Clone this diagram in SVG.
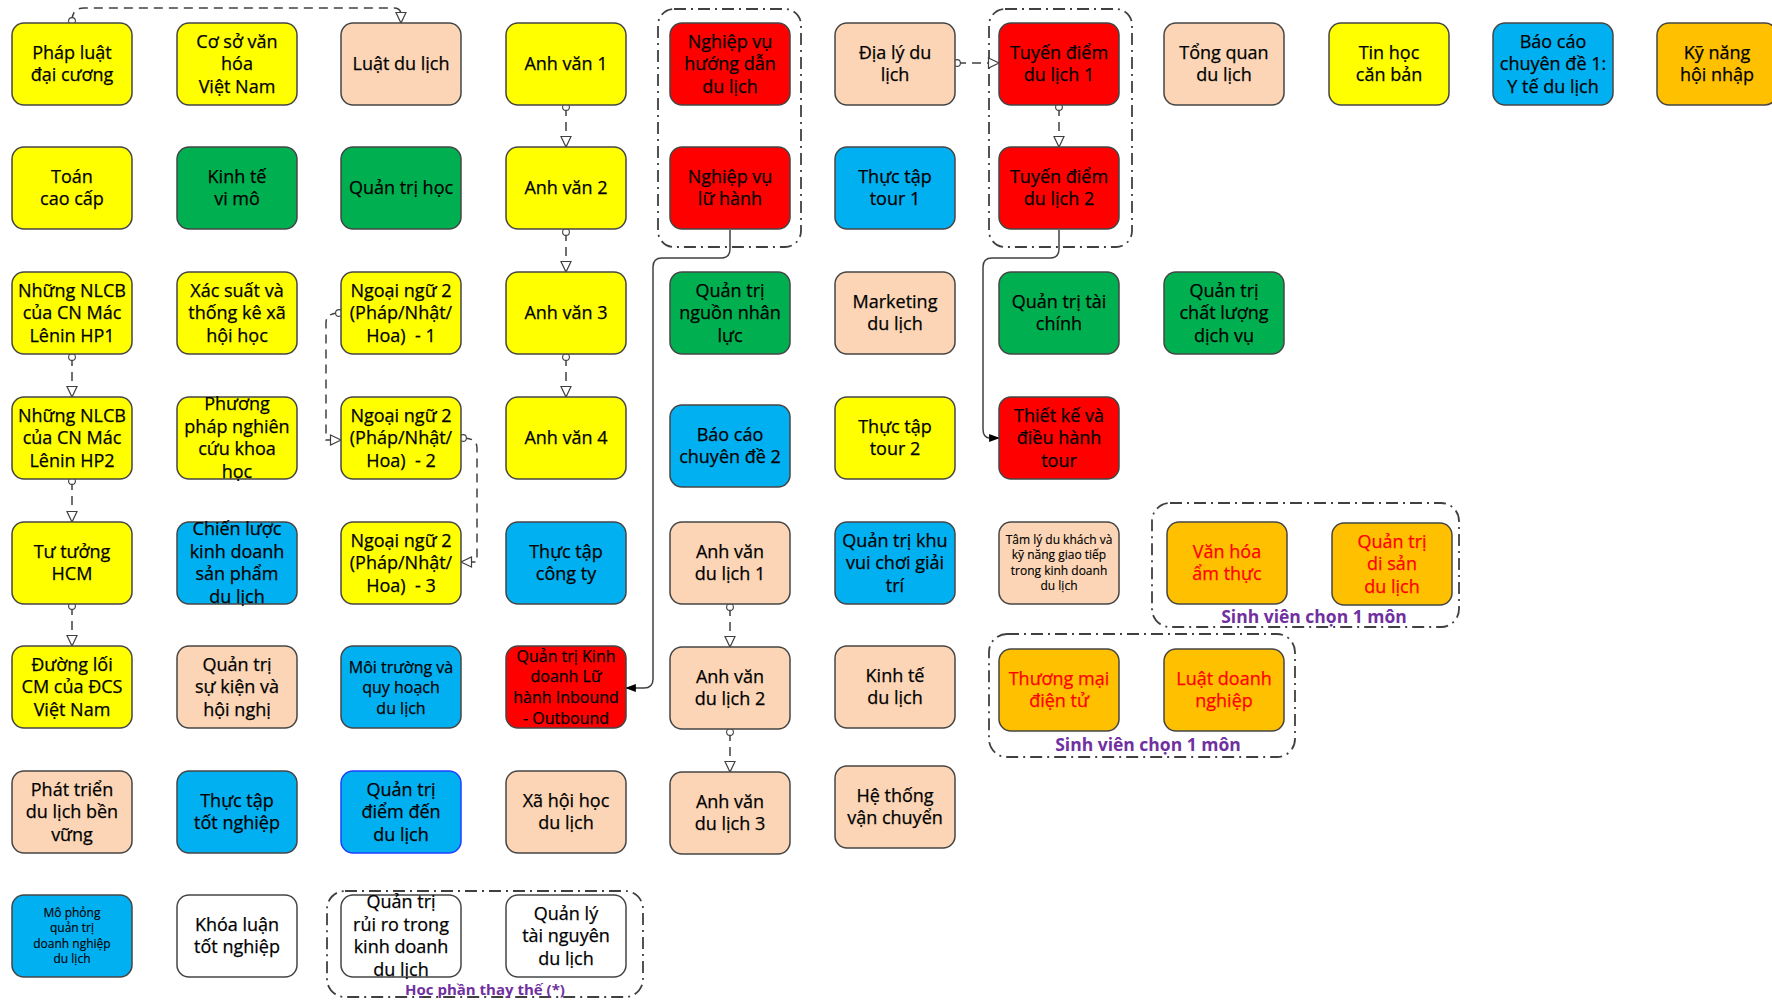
<svg xmlns="http://www.w3.org/2000/svg" width="1772" height="1000" viewBox="0 0 1772 1000">
<style>
.n rect{stroke:#454545;stroke-width:1.5}
.y rect{fill:#FFFF00}.g rect{fill:#00B050}.r rect{fill:#FF0000}.p rect{fill:#FBD5B5}.b rect{fill:#00B0F0}.o rect{fill:#FFC000}.w rect{fill:#FFFFFF}
.n text{font-family:"Open Sans","Noto Sans",sans-serif;font-size:18px;fill:#000;text-anchor:middle;stroke:#000;stroke-width:0.25}
.o text{fill:#FF0000;stroke:#FF0000}
.s12{font-size:12px!important}
.s16{font-size:16px!important}
.grp{fill:none;stroke:#404040;stroke-width:1.8;stroke-dasharray:12 5 2 5}
.lbl{font-family:"Open Sans","Noto Sans",sans-serif;font-weight:bold;fill:#7030A0;text-anchor:middle}
.dl{fill:none;stroke:#404040;stroke-width:1.5;stroke-dasharray:9 6}
.sl{fill:none;stroke:#404040;stroke-width:1.5}
</style>
<defs>
<marker id="oa" viewBox="0 0 12 12" refX="11.5" refY="6" markerWidth="12" markerHeight="12" markerUnits="userSpaceOnUse" orient="auto" overflow="visible">
<path d="M1,1 L11.5,6 L1,11 Z" fill="#fff" stroke="#404040" stroke-width="1.2" stroke-dasharray="none"/>
</marker>
<marker id="fa" viewBox="0 0 12 10" refX="11" refY="5" markerWidth="12" markerHeight="9" markerUnits="userSpaceOnUse" orient="auto" overflow="visible">
<path d="M0,0.5 L12,5 L0,9.5 Z" fill="#000" stroke="none"/>
</marker>
<marker id="ci" viewBox="0 0 8 8" refX="4" refY="4" markerWidth="8" markerHeight="8" markerUnits="userSpaceOnUse" orient="auto" overflow="visible">
<circle cx="4" cy="4" r="3.4" fill="#fff" stroke="#404040" stroke-width="1.1" stroke-dasharray="none"/>
</marker>
</defs>

<g id="groups">
<rect class="grp" x="658" y="9" width="143" height="238" rx="16"/>
<rect class="grp" x="989" y="9" width="143" height="238" rx="16"/>
<rect class="grp" x="1152" y="503" width="307" height="124" rx="18"/>
<rect class="grp" x="989" y="634" width="306" height="123" rx="18"/>
<rect class="grp" x="327" y="891" width="316" height="106" rx="18"/>
<text class="lbl" x="1314" y="623" font-size="17.5">Sinh viên chọn 1 môn</text>
<text class="lbl" x="1148" y="751" font-size="17.5">Sinh viên chọn 1 môn</text>
<text class="lbl" x="485" y="995" font-size="15">Học phần thay thế (*)</text>
</g>

<g id="connectors">
<path class="dl" d="M72,21 Q72,8 84,8 L394,8 Q401,8 401,15 L401,23" marker-start="url(#ci)" marker-end="url(#oa)"/>
<path class="dl" d="M566,107 L566,147" marker-start="url(#ci)" marker-end="url(#oa)"/>
<path class="dl" d="M566,232 L566,272" marker-start="url(#ci)" marker-end="url(#oa)"/>
<path class="dl" d="M566,357 L566,397" marker-start="url(#ci)" marker-end="url(#oa)"/>
<path class="dl" d="M72,357 L72,397" marker-start="url(#ci)" marker-end="url(#oa)"/>
<path class="dl" d="M72,481 L72,522" marker-start="url(#ci)" marker-end="url(#oa)"/>
<path class="dl" d="M72,606 L72,646" marker-start="url(#ci)" marker-end="url(#oa)"/>
<path class="dl" d="M339,313 Q326,313 326,323 L326,440 L341,440" marker-start="url(#ci)" marker-end="url(#oa)"/>
<path class="dl" d="M463,438 Q477,438 477,448 L477,562 L461,562" marker-start="url(#ci)" marker-end="url(#oa)"/>
<path class="dl" d="M957,63 L999,63" marker-start="url(#ci)" marker-end="url(#oa)"/>
<path class="dl" d="M1059,107 L1059,147" marker-start="url(#ci)" marker-end="url(#oa)"/>
<path class="dl" d="M730,607 L730,647" marker-start="url(#ci)" marker-end="url(#oa)"/>
<path class="dl" d="M730,732 L730,772" marker-start="url(#ci)" marker-end="url(#oa)"/>
<path class="sl" d="M730,230 L730,249 Q730,258 721,258 L662,258 Q653,258 653,267 L653,679 Q653,688 644,688 L626,688" marker-end="url(#fa)"/>
<path class="sl" d="M1059,230 L1059,249 Q1059,258 1050,258 L992,258 Q983,258 983,267 L983,429 Q983,438 990,438 L999,438" marker-end="url(#fa)"/>
</g>

<!-- Row 1 -->
<g id="phap-luat" class="n y"><rect x="12" y="23" width="120" height="82" rx="12"/><text x="72" y="58.75"><tspan x="72">Pháp luật</tspan><tspan x="72" dy="22.5">đại cương</tspan></text></g>
<g id="co-so-van-hoa" class="n y"><rect x="177" y="23" width="120" height="82" rx="12"/><text x="237" y="47.5"><tspan x="237">Cơ sở văn</tspan><tspan x="237" dy="22.5">hóa</tspan><tspan x="237" dy="22.5">Việt Nam</tspan></text></g>
<g id="luat-du-lich" class="n p"><rect x="341" y="23" width="120" height="82" rx="12"/><text x="401" y="70">Luật du lịch</text></g>
<g id="anh-van-1" class="n y"><rect x="506" y="23" width="120" height="82" rx="12"/><text x="566" y="70">Anh văn 1</text></g>
<g id="nv-huong-dan" class="n r"><rect x="670" y="23" width="120" height="82" rx="12"/><text x="730" y="47.5"><tspan x="730">Nghiệp vụ</tspan><tspan x="730" dy="22.5">hướng dẫn</tspan><tspan x="730" dy="22.5">du lịch</tspan></text></g>
<g id="dia-ly" class="n p"><rect x="835" y="23" width="120" height="82" rx="12"/><text x="895" y="58.75"><tspan x="895">Địa lý du</tspan><tspan x="895" dy="22.5">lịch</tspan></text></g>
<g id="tuyen-diem-1" class="n r"><rect x="999" y="23" width="120" height="82" rx="12"/><text x="1059" y="58.75"><tspan x="1059">Tuyến điểm</tspan><tspan x="1059" dy="22.5">du lịch 1</tspan></text></g>
<g id="tong-quan" class="n p"><rect x="1164" y="23" width="120" height="82" rx="12"/><text x="1224" y="58.75"><tspan x="1224">Tổng quan</tspan><tspan x="1224" dy="22.5">du lịch</tspan></text></g>
<g id="tin-hoc" class="n y"><rect x="1329" y="23" width="120" height="82" rx="12"/><text x="1389" y="58.75"><tspan x="1389">Tin học</tspan><tspan x="1389" dy="22.5">căn bản</tspan></text></g>
<g id="bao-cao-1" class="n b"><rect x="1493" y="23" width="120" height="82" rx="12"/><text x="1553" y="47.5"><tspan x="1553">Báo cáo</tspan><tspan x="1553" dy="22.5">chuyên đề 1:</tspan><tspan x="1553" dy="22.5">Y tế du lịch</tspan></text></g>
<g id="ky-nang" class="n o"><rect x="1657" y="23" width="120" height="82" rx="12"/><text x="1717" y="58.75" style="fill:#000;stroke:#000"><tspan x="1717">Kỹ năng</tspan><tspan x="1717" dy="22.5">hội nhập</tspan></text></g>

<!-- Row 2 -->
<g id="toan" class="n y"><rect x="12" y="147" width="120" height="82" rx="12"/><text x="72" y="182.75"><tspan x="72">Toán</tspan><tspan x="72" dy="22.5">cao cấp</tspan></text></g>
<g id="kinh-te-vi-mo" class="n g"><rect x="177" y="147" width="120" height="82" rx="12"/><text x="237" y="182.75"><tspan x="237">Kinh tế</tspan><tspan x="237" dy="22.5">vi mô</tspan></text></g>
<g id="quan-tri-hoc" class="n g"><rect x="341" y="147" width="120" height="82" rx="12"/><text x="401" y="194">Quản trị học</text></g>
<g id="anh-van-2" class="n y"><rect x="506" y="147" width="120" height="82" rx="12"/><text x="566" y="194">Anh văn 2</text></g>
<g id="nv-lu-hanh" class="n r"><rect x="670" y="147" width="120" height="82" rx="12"/><text x="730" y="182.75"><tspan x="730">Nghiệp vụ</tspan><tspan x="730" dy="22.5">lữ hành</tspan></text></g>
<g id="thuc-tap-tour-1" class="n b"><rect x="835" y="147" width="120" height="82" rx="12"/><text x="895" y="182.75"><tspan x="895">Thực tập</tspan><tspan x="895" dy="22.5">tour 1</tspan></text></g>
<g id="tuyen-diem-2" class="n r"><rect x="999" y="147" width="120" height="82" rx="12"/><text x="1059" y="182.75"><tspan x="1059">Tuyến điểm</tspan><tspan x="1059" dy="22.5">du lịch 2</tspan></text></g>

<!-- Row 3 -->
<g id="nlcb-1" class="n y"><rect x="12" y="272" width="120" height="82" rx="12"/><text x="72" y="296.5"><tspan x="72">Những NLCB</tspan><tspan x="72" dy="22.5">của CN Mác</tspan><tspan x="72" dy="22.5">Lênin HP1</tspan></text></g>
<g id="xac-suat" class="n y"><rect x="177" y="272" width="120" height="82" rx="12"/><text x="237" y="296.5"><tspan x="237">Xác suất và</tspan><tspan x="237" dy="22.5">thống kê xã</tspan><tspan x="237" dy="22.5">hội học</tspan></text></g>
<g id="ngoai-ngu-1" class="n y"><rect x="341" y="272" width="120" height="82" rx="12"/><text x="401" y="296.5" xml:space="preserve"><tspan x="401">Ngoại ngữ 2</tspan><tspan x="401" dy="22.5">(Pháp/Nhật/</tspan><tspan x="401" dy="22.5">Hoa)  - 1</tspan></text></g>
<g id="anh-van-3" class="n y"><rect x="506" y="272" width="120" height="82" rx="12"/><text x="566" y="319">Anh văn 3</text></g>
<g id="qt-nhan-luc" class="n g"><rect x="670" y="272" width="120" height="82" rx="12"/><text x="730" y="296.5"><tspan x="730">Quản trị</tspan><tspan x="730" dy="22.5">nguồn nhân</tspan><tspan x="730" dy="22.5">lực</tspan></text></g>
<g id="marketing" class="n p"><rect x="835" y="272" width="120" height="82" rx="12"/><text x="895" y="307.75"><tspan x="895">Marketing</tspan><tspan x="895" dy="22.5">du lịch</tspan></text></g>
<g id="qt-tai-chinh" class="n g"><rect x="999" y="272" width="120" height="82" rx="12"/><text x="1059" y="307.75"><tspan x="1059">Quản trị tài</tspan><tspan x="1059" dy="22.5">chính</tspan></text></g>
<g id="qt-chat-luong" class="n g"><rect x="1164" y="272" width="120" height="82" rx="12"/><text x="1224" y="296.5"><tspan x="1224">Quản trị</tspan><tspan x="1224" dy="22.5">chất lượng</tspan><tspan x="1224" dy="22.5">dịch vụ</tspan></text></g>

<!-- Row 4 -->
<g id="nlcb-2" class="n y"><rect x="12" y="397" width="120" height="82" rx="12"/><text x="72" y="421.5"><tspan x="72">Những NLCB</tspan><tspan x="72" dy="22.5">của CN Mác</tspan><tspan x="72" dy="22.5">Lênin HP2</tspan></text></g>
<g id="ppnckh" class="n y"><rect x="177" y="397" width="120" height="82" rx="12"/><text x="237" y="410.25"><tspan x="237">Phương</tspan><tspan x="237" dy="22.5">pháp nghiên</tspan><tspan x="237" dy="22.5">cứu khoa</tspan><tspan x="237" dy="22.5">học</tspan></text></g>
<g id="ngoai-ngu-2" class="n y"><rect x="341" y="397" width="120" height="82" rx="12"/><text x="401" y="421.5" xml:space="preserve"><tspan x="401">Ngoại ngữ 2</tspan><tspan x="401" dy="22.5">(Pháp/Nhật/</tspan><tspan x="401" dy="22.5">Hoa)  - 2</tspan></text></g>
<g id="anh-van-4" class="n y"><rect x="506" y="397" width="120" height="82" rx="12"/><text x="566" y="444">Anh văn 4</text></g>
<g id="bao-cao-2" class="n b"><rect x="670" y="405" width="120" height="82" rx="12"/><text x="730" y="440.75"><tspan x="730">Báo cáo</tspan><tspan x="730" dy="22.5">chuyên đề 2</tspan></text></g>
<g id="thuc-tap-tour-2" class="n y"><rect x="835" y="397" width="120" height="82" rx="12"/><text x="895" y="432.75"><tspan x="895">Thực tập</tspan><tspan x="895" dy="22.5">tour 2</tspan></text></g>
<g id="thiet-ke-tour" class="n r"><rect x="999" y="397" width="120" height="82" rx="12"/><text x="1059" y="421.5"><tspan x="1059">Thiết kế và</tspan><tspan x="1059" dy="22.5">điều hành</tspan><tspan x="1059" dy="22.5">tour</tspan></text></g>

<!-- Row 5 -->
<g id="tu-tuong" class="n y"><rect x="12" y="522" width="120" height="82" rx="12"/><text x="72" y="557.75"><tspan x="72">Tư tưởng</tspan><tspan x="72" dy="22.5">HCM</tspan></text></g>
<g id="chien-luoc" class="n b"><rect x="177" y="522" width="120" height="82" rx="12"/><text x="237" y="535.25"><tspan x="237">Chiến lược</tspan><tspan x="237" dy="22.5">kinh doanh</tspan><tspan x="237" dy="22.5">sản phẩm</tspan><tspan x="237" dy="22.5">du lịch</tspan></text></g>
<g id="ngoai-ngu-3" class="n y"><rect x="341" y="522" width="120" height="82" rx="12"/><text x="401" y="546.5" xml:space="preserve"><tspan x="401">Ngoại ngữ 2</tspan><tspan x="401" dy="22.5">(Pháp/Nhật/</tspan><tspan x="401" dy="22.5">Hoa)  - 3</tspan></text></g>
<g id="thuc-tap-cong-ty" class="n b"><rect x="506" y="522" width="120" height="82" rx="12"/><text x="566" y="557.75"><tspan x="566">Thực tập</tspan><tspan x="566" dy="22.5">công ty</tspan></text></g>
<g id="avdl-1" class="n p"><rect x="670" y="522" width="120" height="82" rx="12"/><text x="730" y="557.75"><tspan x="730">Anh văn</tspan><tspan x="730" dy="22.5">du lịch 1</tspan></text></g>
<g id="qt-khu-vui-choi" class="n b"><rect x="835" y="522" width="120" height="82" rx="12"/><text x="895" y="546.5"><tspan x="895">Quản trị khu</tspan><tspan x="895" dy="22.5">vui chơi giải</tspan><tspan x="895" dy="22.5">trí</tspan></text></g>
<g id="tam-ly" class="n p"><rect x="999" y="522" width="120" height="82" rx="12"/><text class="s12" x="1059" y="544" style="stroke-width:0.15"><tspan x="1059">Tâm lý du khách và</tspan><tspan x="1059" dy="15.3">kỹ năng giao tiếp</tspan><tspan x="1059" dy="15.3">trong kinh doanh</tspan><tspan x="1059" dy="15.3">du lịch</tspan></text></g>
<g id="van-hoa-am-thuc" class="n o"><rect x="1167" y="522" width="120" height="82" rx="12"/><text x="1227" y="557.75"><tspan x="1227">Văn hóa</tspan><tspan x="1227" dy="22.5">ẩm thực</tspan></text></g>
<g id="qt-di-san" class="n o"><rect x="1332" y="523" width="120" height="82" rx="12"/><text x="1392" y="547.5"><tspan x="1392">Quản trị</tspan><tspan x="1392" dy="22.5">di sản</tspan><tspan x="1392" dy="22.5">du lịch</tspan></text></g>

<!-- Row 6 -->
<g id="duong-loi" class="n y"><rect x="12" y="646" width="120" height="82" rx="12"/><text x="72" y="670.5"><tspan x="72">Đường lối</tspan><tspan x="72" dy="22.5">CM của ĐCS</tspan><tspan x="72" dy="22.5">Việt Nam</tspan></text></g>
<g id="qt-su-kien" class="n p"><rect x="177" y="646" width="120" height="82" rx="12"/><text x="237" y="670.5"><tspan x="237">Quản trị</tspan><tspan x="237" dy="22.5">sự kiện và</tspan><tspan x="237" dy="22.5">hội nghị</tspan></text></g>
<g id="moi-truong" class="n b"><rect x="341" y="646" width="120" height="82" rx="12"/><text class="s16" x="401" y="672.5"><tspan x="401">Môi trường và</tspan><tspan x="401" dy="20.5">quy hoạch</tspan><tspan x="401" dy="20.5">du lịch</tspan></text></g>
<g id="qtkd-lu-hanh" class="n r"><rect x="506" y="646" width="120" height="82" rx="12"/><text class="s16" x="566" y="661.5"><tspan x="566">Quản trị Kinh</tspan><tspan x="566" dy="20.7">doanh Lữ</tspan><tspan x="566" dy="20.7">hành Inbound</tspan><tspan x="566" dy="20.7">- Outbound</tspan></text></g>
<g id="avdl-2" class="n p"><rect x="670" y="647" width="120" height="82" rx="12"/><text x="730" y="682.75"><tspan x="730">Anh văn</tspan><tspan x="730" dy="22.5">du lịch 2</tspan></text></g>
<g id="kinh-te-du-lich" class="n p"><rect x="835" y="646" width="120" height="82" rx="12"/><text x="895" y="681.75"><tspan x="895">Kinh tế</tspan><tspan x="895" dy="22.5">du lịch</tspan></text></g>
<g id="thuong-mai-dien-tu" class="n o"><rect x="999" y="649" width="120" height="82" rx="12"/><text x="1059" y="684.75"><tspan x="1059">Thương mại</tspan><tspan x="1059" dy="22.5">điện tử</tspan></text></g>
<g id="luat-doanh-nghiep" class="n o"><rect x="1164" y="649" width="120" height="82" rx="12"/><text x="1224" y="684.75"><tspan x="1224">Luật doanh</tspan><tspan x="1224" dy="22.5">nghiệp</tspan></text></g>

<!-- Row 7 -->
<g id="phat-trien-ben-vung" class="n p"><rect x="12" y="771" width="120" height="82" rx="12"/><text x="72" y="795.5"><tspan x="72">Phát triển</tspan><tspan x="72" dy="22.5">du lịch bền</tspan><tspan x="72" dy="22.5">vững</tspan></text></g>
<g id="thuc-tap-tot-nghiep" class="n b"><rect x="177" y="771" width="120" height="82" rx="12"/><text x="237" y="806.75"><tspan x="237">Thực tập</tspan><tspan x="237" dy="22.5">tốt nghiệp</tspan></text></g>
<g id="qt-diem-den" class="n b"><rect x="341" y="771" width="120" height="82" rx="12" style="stroke:#1F3FFF"/><text x="401" y="795.5"><tspan x="401">Quản trị</tspan><tspan x="401" dy="22.5">điểm đến</tspan><tspan x="401" dy="22.5">du lịch</tspan></text></g>
<g id="xa-hoi-hoc" class="n p"><rect x="506" y="771" width="120" height="82" rx="12"/><text x="566" y="806.75"><tspan x="566">Xã hội học</tspan><tspan x="566" dy="22.5">du lịch</tspan></text></g>
<g id="avdl-3" class="n p"><rect x="670" y="772" width="120" height="82" rx="12"/><text x="730" y="807.75"><tspan x="730">Anh văn</tspan><tspan x="730" dy="22.5">du lịch 3</tspan></text></g>
<g id="he-thong-van-chuyen" class="n p"><rect x="835" y="766" width="120" height="82" rx="12"/><text x="895" y="801.75"><tspan x="895">Hệ thống</tspan><tspan x="895" dy="22.5">vận chuyển</tspan></text></g>

<!-- Row 8 -->
<g id="mo-phong" class="n b"><rect x="12" y="895" width="120" height="82" rx="12"/><text class="s12" x="72" y="917" style="stroke-width:0.15"><tspan x="72">Mô phỏng</tspan><tspan x="72" dy="15.3">quản trị</tspan><tspan x="72" dy="15.3">doanh nghiệp</tspan><tspan x="72" dy="15.3">du lịch</tspan></text></g>
<g id="khoa-luan" class="n w"><rect x="177" y="895" width="120" height="82" rx="12"/><text x="237" y="930.75"><tspan x="237">Khóa luận</tspan><tspan x="237" dy="22.5">tốt nghiệp</tspan></text></g>
<g id="qt-rui-ro" class="n w"><rect x="341" y="895" width="120" height="82" rx="12"/><text x="401" y="908.25"><tspan x="401">Quản trị</tspan><tspan x="401" dy="22.5">rủi ro trong</tspan><tspan x="401" dy="22.5">kinh doanh</tspan><tspan x="401" dy="22.5">du lịch</tspan></text></g>
<g id="ql-tai-nguyen" class="n w"><rect x="506" y="895" width="120" height="82" rx="12"/><text x="566" y="919.5"><tspan x="566">Quản lý</tspan><tspan x="566" dy="22.5">tài nguyên</tspan><tspan x="566" dy="22.5">du lịch</tspan></text></g>
</svg>
